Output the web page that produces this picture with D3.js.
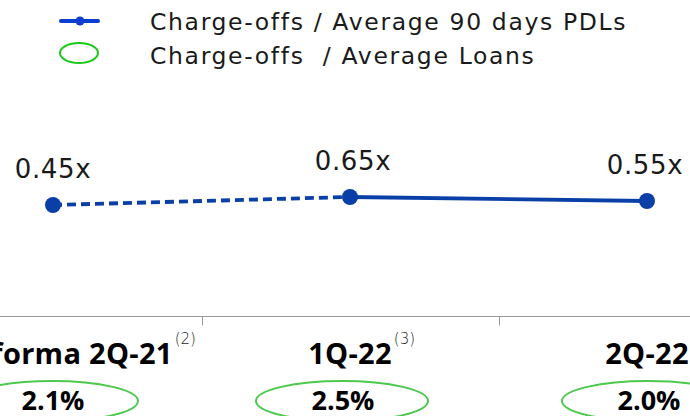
<!DOCTYPE html>
<html><head><meta charset="utf-8">
<script src="https://cdn.jsdelivr.net/npm/d3@7"></script>
<style>body{margin:0;background:#fff}svg{display:block}</style>
</head><body><svg id="c" width="690" height="416"></svg>
<script>
const categories = ["Pro forma 2Q-21", "1Q-22", "2Q-22"];
const footnotes = ["(2)", "(3)", ""];
const pdlRatio = [0.45, 0.65, 0.55];
const pdlLabels = ["0.45x", "0.65x", "0.55x"];
const loanRatio = ["2.1%", "2.5%", "2.0%"];
const legendLabels = ["Charge-offs / Average 90 days PDLs", "Charge-offs  / Average Loans"];

// layout-only nudges for the loan-ratio badges (pixels)
const badgeNudge = [0, -7, 2];

const svg = d3.select("#c");
const blue = "#0a3fa8", green = "#4cc94c";
const x = d3.scaleBand().domain(categories).range([-95.5, 795.5]).padding(0);
const y = d3.scaleLinear().domain([0, 1]).range([223, 183]);
const cx = d => x(d) + x.bandwidth() / 2;

// legend
const lg = svg.append("g");
lg.append("line").attr("x1", 61).attr("x2", 98).attr("y1", 21).attr("y2", 21)
  .attr("stroke", "#0a3dd0").attr("stroke-width", 4).attr("stroke-linecap", "round");
lg.append("circle").attr("cx", 80).attr("cy", 21).attr("r", 4.5).attr("fill", "#0a3dd0");
lg.append("ellipse").attr("cx", 79).attr("cy", 53).attr("rx", 19).attr("ry", 10)
  .attr("fill", "none").attr("stroke", "#19c919").attr("stroke-width", 2);
lg.selectAll("text.lg").data(legendLabels).join("text").attr("class", "lg")
  .attr("x", 150).attr("y", (d, i) => 30 + i * 34)
  .attr("font-family", "DejaVu Sans").attr("font-weight", 400).attr("font-size", 23.5)
  .attr("letter-spacing", 1.65)
  .attr("fill", "#1a1a1a").style("white-space", "pre").text(d => d);

// axis
const axisG = svg.append("g").attr("transform", "translate(0,316.5)");
axisG.append("line").attr("x1", 0).attr("x2", 690).attr("stroke", "#999").attr("stroke-width", 1.2);
axisG.selectAll("line.tk").data(categories.slice(0, -1)).join("line").attr("class", "tk")
  .attr("x1", d => Math.round(x(d) + x.bandwidth()) + 0.5).attr("x2", d => Math.round(x(d) + x.bandwidth()) + 0.5)
  .attr("y1", 0).attr("y2", 9).attr("stroke", "#999").attr("stroke-width", 1);

// category labels
categories.forEach((c, i) => {
  const t = svg.append("text").attr("x", cx(c)).attr("y", 364).attr("text-anchor", "middle")
    .attr("font-family", "Open Sans").attr("font-weight", 700).attr("font-size", 29)
    .attr("letter-spacing", 0.3)
    .attr("fill", "#000").text(c);
  if (footnotes[i]) {
    const bb = t.node().getBBox();
    svg.append("text").attr("x", bb.x + bb.width + 2).attr("y", 344)
      .attr("font-family", "DejaVu Sans").attr("font-weight", 300).attr("font-size", 15)
      .attr("fill", "#222").text(footnotes[i]);
  }
});

// loan ratio ellipses
const eg = svg.selectAll("g.el").data(categories).join("g").attr("class", "el");
eg.append("ellipse").attr("cx", (d, i) => cx(d) - 1 + badgeNudge[i]).attr("cy", 401).attr("rx", 86).attr("ry", 20)
  .attr("fill", "none").attr("stroke", green).attr("stroke-width", 2);
eg.append("text").attr("x", (d, i) => cx(d) + badgeNudge[i]).attr("y", 410).attr("text-anchor", "middle")
  .attr("font-family", "Open Sans").attr("font-weight", 700).attr("font-size", 27)
  .attr("fill", "#000").text((d, i) => loanRatio[i]);

// line
const pts = categories.map((c, i) => [cx(c), y(pdlRatio[i])]);
const line = d3.line();
svg.append("path").attr("d", line(pts.slice(0, 2))).attr("fill", "none").attr("stroke", blue)
  .attr("stroke-width", 3.8).attr("stroke-dasharray", "9,5");
svg.append("path").attr("d", line(pts.slice(1))).attr("fill", "none").attr("stroke", blue)
  .attr("stroke-width", 3.8);
svg.selectAll("circle.pt").data(pts).join("circle").attr("class", "pt")
  .attr("cx", d => d[0]).attr("cy", d => d[1]).attr("r", 8).attr("fill", blue);
svg.selectAll("text.vl").data(pts).join("text").attr("class", "vl")
  .attr("x", (d, i) => d[0] + [0, 3, -2][i]).attr("y", d => d[1] - 27).attr("text-anchor", "middle")
  .attr("font-family", "DejaVu Sans").attr("font-weight", 400).attr("font-size", 26)
  .attr("letter-spacing", 0.6)
  .attr("fill", "#1a1a1a").text((d, i) => pdlLabels[i]);
</script></body></html>
